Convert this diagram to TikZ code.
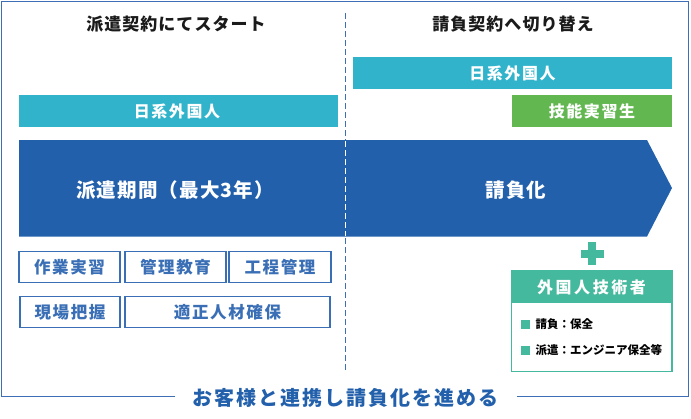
\documentclass[tikz,border=0pt]{standalone}
\usepackage{fontspec}
\setmainfont{Noto Sans CJK JP}
\newfontfamily\jp[LetterSpace=6]{Noto Sans CJK JP}
\newfontfamily\jpw[LetterSpace=10]{Noto Sans CJK JP}
\newfontfamily\jpww[LetterSpace=16]{Noto Sans CJK JP}
\definecolor{frameblue}{HTML}{3D6EB6}
\definecolor{arrowblue}{HTML}{2260AC}
\definecolor{tealbar}{HTML}{31B3CB}
\definecolor{greenbar}{HTML}{62B750}
\definecolor{mint}{HTML}{45B99D}
\definecolor{boxblue}{HTML}{3A6FB6}
\definecolor{hdr}{HTML}{1A1A1A}
\tikzset{
  px/.style={x=1pt,y=-1pt},
  bar/.style={inner sep=0pt, text=white, font=\jpw\bfseries\fontsize{16}{16}\selectfont},
  cell/.style={draw=boxblue, line width=1.4pt, fill=white, inner sep=0pt, text=boxblue, font=\jpw\bfseries\fontsize{16.5}{16.5}\selectfont},
  hdrtext/.style={text=hdr, font=\jp\bfseries\fontsize{17}{17}\selectfont},
  divider/.style={line width=1.2pt, dash pattern=on 5.5pt off 3.5pt},
}
\begin{document}
\begin{tikzpicture}[px]
\useasboundingbox (0,0) rectangle (691,418);
\fill[white] (0,0) rectangle (691,418);
% outer frame
\coordinate (fl) at (175,396.5);
\coordinate (fr) at (516.5,396.5);
\draw[frameblue, line width=1.5pt] (fl) -- (1.5,396.5) -- (1.5,1.5) -- (688.5,1.5) -- (688.5,396.5) -- (fr);
\node[text=arrowblue, font=\jpw\bfseries\fontsize{20}{20}\selectfont] (title) at (345,398) {お客様と連携し請負化を進める};
% dashed divider
\coordinate (d1) at (345.5,13);
\coordinate (d2) at (345.5,371);
\draw[frameblue, divider] (d1) -- (d2);
% headers
\node[hdrtext] (h1) at (176,24) {派遣契約にてスタート};
\node[hdrtext] (h2) at (513,24) {請負契約へ切り替え};
% bars
\fill[tealbar] (19,95) rectangle (337.5,127);
\node[bar] (b1) at (177,111) {日系外国人};
\fill[tealbar] (353,57) rectangle (672,89);
\node[bar] (b2) at (512.5,73) {日系外国人};
\fill[greenbar] (512,94.5) rectangle (672,127);
\node[bar] (b3) at (592,111) {技能実習生};
% arrow
\fill[arrowblue] (19,140) -- (647,140) -- (672,188) -- (647,236.5) -- (19,236.5) -- cycle;
\coordinate (w1) at (345.5,141);
\coordinate (w2) at (345.5,236);
\draw[white, divider] (w1) -- (w2);
\node[bar, font=\jp\bfseries\fontsize{19.5}{19.5}\selectfont] (a1) at (175,190) {派遣期間（最大3年）};
\node[bar, font=\jp\bfseries\fontsize{19.5}{19.5}\selectfont] (a2) at (516,190) {請負化};
% cells
\node[cell, minimum width=101pt, minimum height=31.5pt] (c1) at (69.5,267) {作業実習};
\node[cell, minimum width=101pt, minimum height=31.5pt] (c2) at (175.5,267) {管理教育};
\node[cell, minimum width=102pt, minimum height=31.5pt] (c3) at (280,267) {工程管理};
\node[cell, minimum width=100pt, minimum height=31.5pt] (c4) at (70,312) {現場把握};
\node[cell, minimum width=205pt, minimum height=31.5pt] (c5) at (227.5,312) {適正人材確保};
% plus
\fill[mint] (580.5,250) rectangle (603.5,258);
\fill[mint] (588,242) rectangle (596,265);
% tech box
\draw[mint, line width=1.5pt, fill=white] (511.5,271) rectangle (672,371.5);
\fill[mint] (511.5,271) rectangle (672,303);
\node[bar, font=\jpww\bfseries\fontsize{16}{16}\selectfont] (t1) at (591.5,287.5) {外国人技術者};
\fill[mint] (521,320) rectangle (530,329);
\fill[mint] (521,345.5) rectangle (530,354.5);
\node[anchor=west, inner sep=0pt, font=\bfseries\fontsize{11.5}{11.5}\selectfont] (i1) at (535.5,324.5) {請負：保全};
\node[anchor=west, inner sep=0pt, font=\bfseries\fontsize{11.5}{11.5}\selectfont] (i2) at (535.5,350) {派遣：エンジニア保全等};
\end{tikzpicture}
\end{document}
